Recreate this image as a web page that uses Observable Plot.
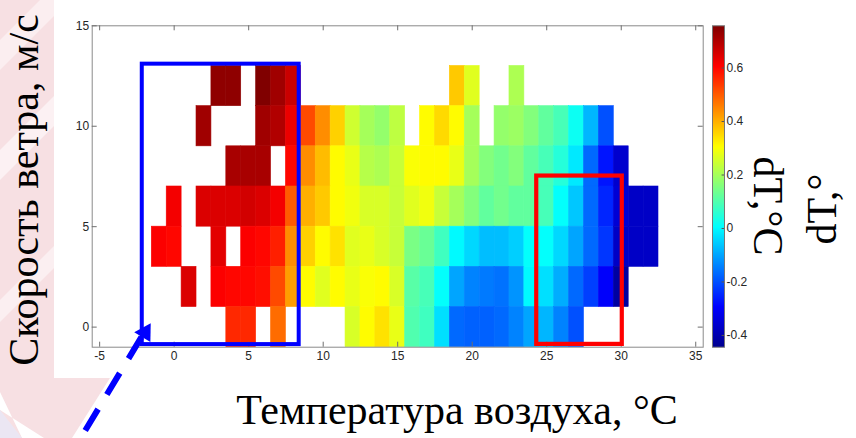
<!DOCTYPE html>
<html><head><meta charset="utf-8">
<script src="https://cdn.jsdelivr.net/npm/d3@7"></script>
<script src="https://cdn.jsdelivr.net/npm/@observablehq/plot@0.6"></script>
<style>
html,body{margin:0;padding:0;background:#fff;}
#wrap{position:relative;width:856px;height:438px;overflow:hidden;font-family:"Liberation Sans",Arial,sans-serif;}
#wrap > *{position:absolute;}
.big{font-family:"Liberation Serif","Times New Roman",serif;font-size:42px;color:#000;white-space:nowrap;line-height:1;}
</style></head><body><div id="wrap"></div>
<script>
// ---- data: temperature bin centers (°C), wind speed rows (m/s), dT values (°C) ----
const xCenters = [-1,0,1,2,3,4,5,6,7,8,9,10,11,12,13,14,15,16,17,18,19,20,21,22,23,24,25,26,27,28,29,30,31,32];
const yRows = [12,10,8,6,4,2,0];
const row12 = [null,null,null,null,0.74, 0.74,null,0.76,0.72,0.67, null,null,null,null,null, null,null,null,null,null, 0.37,0.27,null,null,0.21, null,null,null,null,null, null,null,null,null];
const row10 = [null,null,null,0.72,null, null,null,0.72,0.70,0.63, 0.52,0.44,0.36,0.25,0.20, 0.18,0.23,null,0.31,0.35, 0.31,0.20,null,0.18,0.19, 0.16,0.12,0.09,0.02,-0.08, -0.20,null,null,null];
const row8  = [null,null,null,null,null, 0.71,0.71,0.71,null,0.60, 0.44,0.385,0.31,0.28,0.22, 0.21,0.24,0.30,0.31,0.31, 0.28,0.20,0.16,0.14,0.16, 0.12,0.09,0.05,-0.02,-0.17, -0.27,-0.36,null,null];
const row6  = [null,0.62,null,0.65,0.65, 0.65,0.66,0.65,0.62,0.50, 0.40,0.37,0.31,0.29,0.26, 0.26,0.24,0.27,0.29,0.24, 0.20,0.16,0.12,0.14,0.12, 0.12,0.09,0.01,-0.06,-0.17, -0.25,-0.35,-0.37,-0.37];
const row4  = [0.61,0.60,null,null,0.64, null,0.61,0.60,0.57,0.44, 0.36,0.31,0.34,0.27,0.28, 0.26,0.24,0.15,0.13,0.08, 0.00,-0.04,-0.07,-0.07,-0.05, 0.01,0.01,-0.04,-0.10,-0.17, -0.23,-0.37,-0.37,-0.37];
const row2  = [null,null,0.65,null,0.61, 0.60,0.60,0.59,0.52,0.42, 0.31,0.27,0.31,0.28,0.30, 0.31,0.26,0.11,0.09,0.01, -0.10,-0.14,-0.15,-0.16,-0.12, 0.00,-0.03,-0.09,-0.17,-0.22, -0.30,-0.42,null,null];
const row0  = [null,null,null,null,null, 0.56,0.56,null,0.48,null, null,null,null,0.26,0.31, 0.34,0.28,0.10,0.08,-0.03, -0.17,-0.18,-0.18,-0.17,-0.14, -0.10,-0.08,-0.14,-0.20,null, null,null,null,null];
const binW = 1, binH = 2;

const xTicks = [-5,0,5,10,15,20,25,30,35];
const yTicks = [0,5,10,15];
const cbTicks = [-0.4,-0.2,0,0.2,0.4,0.6];
const xDomain = [-5.5,35.5];
const yDomain = [-1,15];
const cLimits = [-0.444,0.758];
// jet colormap stops
const jetStops = [-0.444,-0.294,0.006,0.306,0.607,0.758];
const jetColors = ["#00008f","#0000ff","#00ffff","#ffff00","#ff0000","#800000"];

// annotation boxes and arrow (data units)
const blueBox = [{x1:-2.14,x2:8.39,y1:-0.87,y2:13.09}];
const redBox  = [{x1:24.33,x2:30.07,y1:-0.86,y2:7.52}];
const arrowLine = [{x1:-2.2,y1:-0.5,x2:-6.9,y2:-6.3}];
const arrowHead = [{x:-1.95,y:-0.27}];

const labelY = "Скорость ветра, м/с";
const labelX = "Температура воздуха, °C";
const labelC = "dT,°C";
const labelC2 = "dT,°";

const rows = [row12,row10,row8,row6,row4,row2,row0];
const cells = rows.flatMap((r,j)=>r.map((v,i)=>({x:xCenters[i],y:yRows[j],v})).filter(d=>d.v!=null));

const W=856,H=438,mL=91.7,mR=153.3,mT=25.3,mB=91.3;
const pxX=(W-mL-mR)/(xDomain[1]-xDomain[0]), pxY=(H-mT-mB)/(yDomain[1]-yDomain[0]);
const tickX = 5/pxY, tickY = 5/pxX;
const a = arrowLine[0];
const headAngle = Math.atan2((a.x1-a.x2)*pxX,(a.y1-a.y2)*pxY)*180/Math.PI;

const colorOpt = {type:"linear",domain:jetStops,range:jetColors,interpolate:"rgb",clamp:true};
const tickStroke = "#6e6e6e";

const main = Plot.plot({
  width:W,height:H,marginLeft:mL,marginRight:mR,marginTop:mT,marginBottom:mB,
  x:{domain:xDomain},y:{domain:yDomain},color:colorOpt,
  style:{background:"transparent",fontFamily:"'Liberation Sans',Arial,sans-serif",fontSize:"12px",color:"#262626",overflow:"visible"},
  marks:[
    Plot.rect(cells,{x1:d=>d.x-binW/2,x2:d=>d.x+binW/2,y1:d=>d.y-binH/2,y2:d=>d.y+binH/2,fill:"v",stroke:"v",strokeWidth:0.6}),
    Plot.frame({stroke:"#8a8a8a"}),
    Plot.ruleX(xTicks,{x:d=>d,y1:yDomain[0],y2:yDomain[0]+tickX,stroke:tickStroke}),
    Plot.ruleX(xTicks,{x:d=>d,y1:yDomain[1]-tickX,y2:yDomain[1],stroke:tickStroke}),
    Plot.ruleY(yTicks,{y:d=>d,x1:xDomain[0],x2:xDomain[0]+tickY,stroke:tickStroke}),
    Plot.ruleY(yTicks,{y:d=>d,x1:xDomain[1]-tickY,x2:xDomain[1],stroke:tickStroke}),
    Plot.axisX(xTicks,{anchor:"bottom",tickSize:0,tickPadding:4,tickFormat:d=>String(d),label:null}),
    Plot.axisY(yTicks,{anchor:"left",tickSize:0,tickPadding:3,tickFormat:d=>String(d),label:null}),
    Plot.rect(blueBox,{x1:"x1",x2:"x2",y1:"y1",y2:"y2",fill:"none",stroke:"#0000ff",strokeWidth:4}),
    Plot.rect(redBox,{x1:"x1",x2:"x2",y1:"y1",y2:"y2",fill:"none",stroke:"#ff0000",strokeWidth:4.2}),
    Plot.link(arrowLine,{x1:"x1",y1:"y1",x2:"x2",y2:"y2",stroke:"#0000ff",strokeWidth:6,strokeDasharray:"25,17",strokeLinecap:"butt"}),
    Plot.dot(arrowHead,{x:"x",y:"y",symbol:"triangle",r:7,fill:"#0000ff",stroke:"none",rotate:headAngle})
  ]
});

const cb = Plot.plot({
  width:70,height:H,marginLeft:0,marginRight:58,marginTop:mT,marginBottom:mB,
  x:{domain:[0,1],axis:null},y:{domain:cLimits},color:colorOpt,
  style:{background:"transparent",fontFamily:"'Liberation Sans',Arial,sans-serif",fontSize:"12px",color:"#262626",overflow:"visible"},
  marks:[
    Plot.raster({fill:(x,y)=>y,x1:0,x2:1,y1:cLimits[0],y2:cLimits[1],width:1,height:322,imageRendering:"auto"}),
    Plot.frame({stroke:"#777"}),
    Plot.ruleY(cbTicks,{y:d=>d,x1:0.8,x2:1,stroke:"#555"}),
    Plot.axisY(cbTicks,{anchor:"right",tickSize:0,tickPadding:2,tickFormat:d=>String(d),label:null})
  ]
});

const wrap = document.getElementById("wrap");
// decorative slide background
const bg = document.createElementNS("http://www.w3.org/2000/svg","svg");
bg.setAttribute("width",W);bg.setAttribute("height",H);bg.style.left="0";bg.style.top="0";
bg.innerHTML = `
<rect x="0" y="0" width="${W}" height="${H}" fill="#fff"/>
<polygon points="0,0 60,0 60,378 110,378 72,438 0,438" fill="#f7e0e3"/>
<polygon points="0,40 60,-20 60,10 0,70" fill="#fbeef0"/>
<polygon points="0,150 60,90 60,120 0,180" fill="#fcf1f3"/>
<polygon points="0,300 60,240 60,262 0,322" fill="#fbeff1"/>
<polygon points="0,392 0,410 44,438 22,438" fill="#ffffff"/>
<polygon points="0,410 0,438 22,438" fill="#ebe6f3"/>
<rect x="54" y="0" width="${W-54}" height="378" fill="#fff"/>`;
wrap.appendChild(bg);
main.style.left="0";main.style.top="0";
wrap.appendChild(main);
cb.style.left="711.5px";cb.style.top="0";
wrap.appendChild(cb);

function addLabel(text,cx,cy,rot){
  const d=document.createElement("div");d.className="big";d.textContent=text;
  d.style.left=cx+"px";d.style.top=cy+"px";
  d.style.transform=`translate(-50%,-50%) rotate(${rot}deg)`;
  wrap.appendChild(d);
}
addLabel(labelY,24,190,-90);
addLabel(labelX,457,410,0);
addLabel(labelC,768,206,90);
addLabel(labelC2,822,209,-90);
</script></body></html>
